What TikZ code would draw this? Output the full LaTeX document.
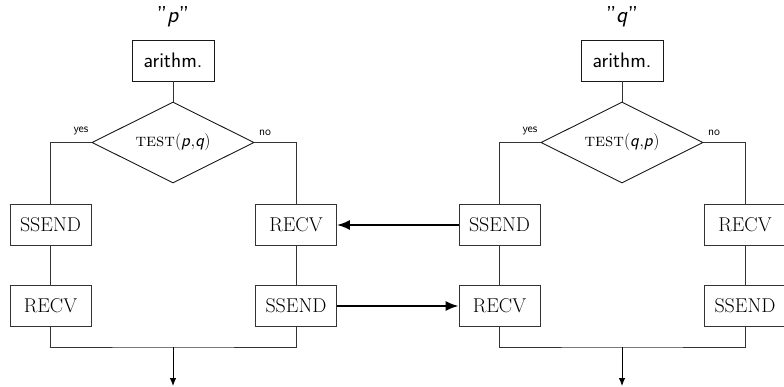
\documentclass[tikz,border=0pt]{standalone}
\usetikzlibrary{shapes.geometric,arrows.meta}
\begin{document}
\begin{tikzpicture}[x=1pt,y=-1pt,
  line/.style={draw=black!80,line width=0.9pt},
  box/.style={draw=black!80,line width=0.9pt,minimum width=81pt,minimum height=41pt,inner sep=0pt,font=\fontsize{20}{23}\selectfont},
  abox/.style={draw=black!90,line width=0.9pt,minimum width=82pt,minimum height=41pt,inner sep=0pt,font=\fontsize{21}{24}\selectfont\sffamily},
  dia/.style={diamond,draw=black!90,line width=0.9pt,minimum width=162pt,minimum height=81pt,aspect=2,inner sep=0pt,font=\fontsize{18}{20}\selectfont},
  ttl/.style={font=\fontsize{23}{26}\selectfont\sffamily},
  lab/.style={font=\fontsize{12}{14}\selectfont\sffamily},
  msg/.style={draw=black,line width=1.8pt,-{Latex[length=13pt,width=10pt]}},
  outarr/.style={draw=black,line width=0.9pt,-{Latex[length=8pt,width=6.5pt]}}]
\useasboundingbox (0,0) rectangle (784,387);
% left process
\node[ttl] (tp) at (173,17) {''\textsl{p}''};
\node[abox] (arL) at (173,60.5) {arithm.};
\node[dia] (dL) at (173,142.5) {\textsc{test}$($\textsf{\textsl{p}}$,$\textsf{\textsl{q}}$)$};
\node[box] (s1L) at (50.5,225) {SSEND};
\node[box] (r1L) at (50.5,306) {RECV};
\node[box] (r2L) at (296,225) {RECV};
\node[box] (s2L) at (296,306) {SSEND};
\node[lab] (yL) at (81,131) {yes};
\node[lab] (nL) at (265,133) {no};
\coordinate (jL) at (173,347);
\coordinate (oL) at (173,386);
\draw[line] (arL) -- (dL);
\draw[line] (dL.west) -| (s1L);
\draw[line] (dL.east) -| (r2L);
\draw[line] (s1L) -- (r1L);
\draw[line] (r2L) -- (s2L);
\draw[line] (r1L.south) |- (jL) -| (s2L.south);
\draw[outarr] (jL) -- (oL);
% right process
\node[ttl] (tq) at (622,17) {''\textsl{q}''};
\node[abox] (arR) at (622,60.5) {arithm.};
\node[dia] (dR) at (622,142.5) {\textsc{test}$($\textsf{\textsl{q}}$,$\textsf{\textsl{p}}$)$};
\node[box] (s1R) at (499.5,225) {SSEND};
\node[box] (r1R) at (499.5,306) {RECV};
\node[box] (r2R) at (745,225) {RECV};
\node[box] (s2R) at (745,306) {SSEND};
\node[lab] (yR) at (530,131) {yes};
\node[lab] (nR) at (714,133) {no};
\coordinate (jR) at (622,347);
\coordinate (oR) at (622,386);
\draw[line] (arR) -- (dR);
\draw[line] (dR.west) -| (s1R);
\draw[line] (dR.east) -| (r2R);
\draw[line] (s1R) -- (r1R);
\draw[line] (r2R) -- (s2R);
\draw[line] (r1R.south) |- (jR) -| (s2R.south);
\draw[outarr] (jR) -- (oR);
% messages
\draw[msg] (s1R) -- (r2L);
\draw[msg] (s2L) -- (r1R);
\end{tikzpicture}
\end{document}
